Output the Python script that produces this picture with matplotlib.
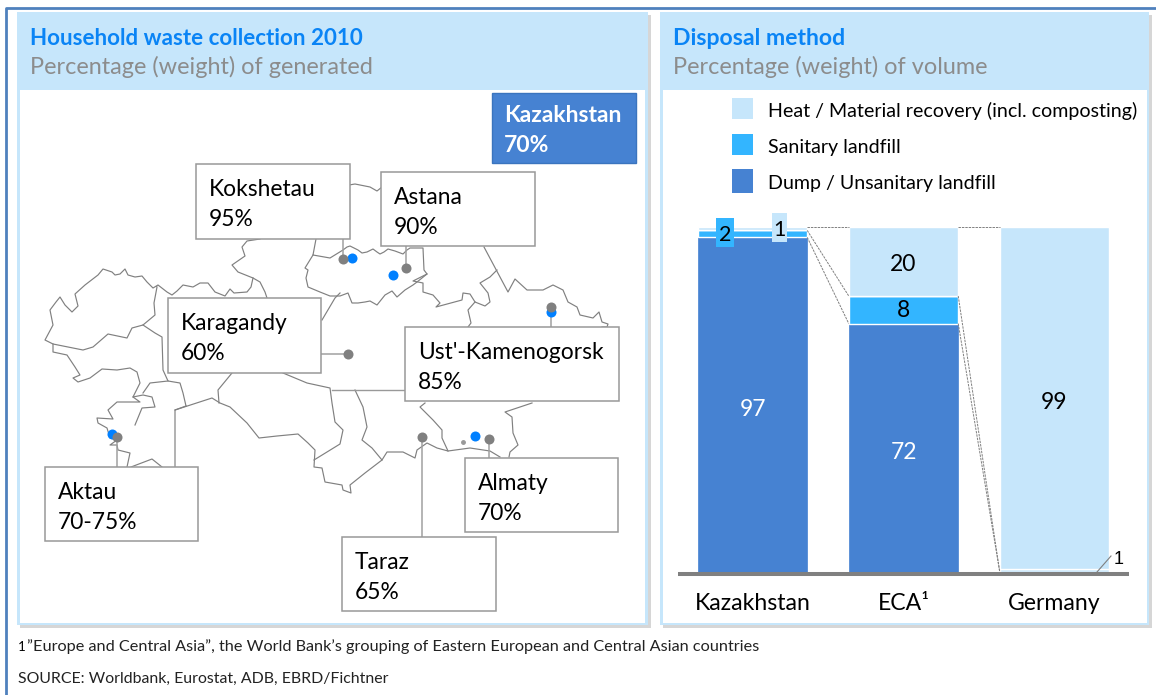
import numpy as np
import matplotlib
matplotlib.use('Agg')
import matplotlib.pyplot as plt
from matplotlib.patches import Rectangle

plt.rcParams['font.family'] = ['Lato', 'DejaVu Sans']

# bar data
categories = ['Kazakhstan', 'ECA¹', 'Germany']
dump = [97, 72, 0]
sanitary = [2, 8, 0]
heat = [1, 20, 99]
other = [0, 0, 1]
legend_labels = ['Heat / Material recovery (incl. composting)', 'Sanitary landfill', 'Dump / Unsanitary landfill']

# cities
cities = ['Kokshetau', 'Astana', 'Karagandy', "Ust'-Kamenogorsk", 'Aktau', 'Almaty', 'Taraz']
rates = ['95%', '90%', '60%', '85%', '70-75%', '70%', '65%']
country = 'Kazakhstan'
country_rate = '70%'

# map outline in pixels
map_lines = [
    [(260,239),(247,241),(242,247),(245,256),(232,265),(238,272),(253,278),(260,282),(265,292),(267,298)],
    [(253,278),(251,287),(247,292),(234,293),(230,289),(225,296),(215,292),(208,283),(200,283),(193,287),(183,285),
     (177,291),(172,295),(167,292),(158,285),(153,288),(147,282),(142,276),(135,277),(128,275),(125,269),(120,274),
     (115,275),(112,272),(103,269),(98,275),(85,285),(75,294),(78,306),(72,312),(65,305),(60,297),(56,302),(50,310),
     (53,325),(45,340),(53,344),(83,350),(93,347),(108,334),(127,338),(132,328),(143,325),(155,315),(154,303),(157,287)],
    [(143,325),(155,333),(162,337),(163,370),(168,381),(180,383),(183,393),(186,406)],
    [(53,344),(53,352),(67,355),(75,367),(80,375),(73,378),(78,382),(90,378),(102,369),(117,370),(130,368),(137,372),
     (140,383),(135,393),(133,397),(140,402),(127,402),(117,402),(108,410),(113,419),(97,418),(98,423),(107,428),
     (110,438),(117,440),(110,445),(117,445),(118,450),(130,453),(127,467)],
    [(143,393),(150,383),(168,381)],
    [(135,425),(142,408),(155,407),(152,397),(143,395),(133,397)],
    [(131,467),(152,459),(162,467)],
    [(175,467),(175,410),(212,398),(220,403),(230,407),(247,423),(259,438),(277,436),(298,434),(308,443),(315,450),
     (314,467),(322,468),(325,482),(342,485),(343,490),(351,493),(350,485),(365,473),(382,460),(387,452),(403,452),
     (415,458),(417,450),(427,443),(437,448),(448,451),(470,448),(490,451),(500,457)],
    [(175,410),(186,406)],
    [(232,373),(218,390),(219,403)],
    [(283,373),(307,383),(330,388),(332,403),(335,422),(343,430),(340,444),(314,460)],
    [(355,390),(363,407),(367,427),(362,440),(372,448),(382,460)],
    [(425,403),(420,407),(433,420),(442,430),(442,438),(448,451)],
    [(532,403),(505,412),(512,417),(513,433),(518,445),(510,452),(509,457)],
    [(349,185),(355,184),(370,187),(377,191),(382,187)],
    [(316,239),(313,255),(330,258),(343,250),(347,247),(350,246),(354,248),(358,250),(362,253),(367,252),(373,249),
     (377,252),(380,254),(384,252),(388,249),(395,251),(403,254),(407,250),(410,248),(423,248),(424,270),(427,274),
     (413,281),(423,283),(423,292),(433,295),(440,303),(436,307),(462,300),(463,293),(470,294),(475,302),(485,306),
     (490,302),(488,293),(480,283),(490,277),(497,270)],
    [(427,274),(417,282),(413,285),(405,290),(397,297),(392,291),(385,295),(377,305),(370,301),(365,302),(358,303),
     (352,303),(348,293),(340,296),(330,296),(320,292),(308,287),(306,278),(308,270),(305,268),(313,255)],
    [(340,293),(335,298),(322,320)],
    [(484,247),(508,292),(515,279),(527,290),(543,290),(553,285),(563,290),(568,302),(577,307),(580,315),(593,318),
     (599,312),(602,322),(608,324),(607,327),(602,327)],
    [(475,302),(468,310),(471,323),(468,327)],
]

# layout, pixels
boxes = [(196,164,154,75),(381,172,154,74),(168,298,153,75),(405,327,214,74),(45,467,153,74),(465,458,153,74),(342,537,154,74)]
leaders = [[(343,239),(343,259)],[(406,246),(406,268)],[(321,354),(348,354)],[(551,307),(551,327)],
           [(117,437),(117,467)],[(489,439),(489,458)],[(422,437),(422,537)]]
grey_pts = [(343,259),(406,268),(348,354),(551,307),(117,437),(489,439),(422,437)]
blue_pts = [(352,258),(393,275),(551,312),(112,434),(475,436)]
riser_line = [(332,390),(405,390)]

dark = '#4682D2'
bright = '#33B5FF'
light = '#C6E6FB'
title_blue = '#0A84F5'
grey = '#8C8C8C'

fig = plt.figure(figsize=(11.56, 6.95), dpi=100, facecolor='white')
bg = fig.add_axes([0, 0, 1, 1], zorder=0)
bg.set_xlim(0, 1156)
bg.set_ylim(695, 0)
bg.axis('off')

# outer rule
bg.plot([1156, 6, 6], [7.5, 7.5, 695], color='#4F81BD', lw=2)

# panels
for x0, x1, ix0, ix1 in [(17, 648, 20, 645), (660, 1149, 663, 1147)]:
    bg.add_patch(Rectangle((x0 + 3, 15), x1 - x0, 613, fc='#D6D6D6', ec='none'))
    bg.add_patch(Rectangle((x0, 12), x1 - x0, 613, fc=light, ec='none'))
    bg.add_patch(Rectangle((ix0, 90), ix1 - ix0, 533, fc='white', ec='none'))

bg.text(30, 38.5, 'Household waste collection 2010', color=title_blue, fontsize=16.15, fontweight='bold', va='center')
bg.text(30, 66.5, 'Percentage (weight) of generated', color=grey, fontsize=16.9, va='center')
bg.text(673, 38.5, 'Disposal method', color=title_blue, fontsize=16.6, fontweight='bold', va='center')
bg.text(673, 66.5, 'Percentage (weight) of volume', color=grey, fontsize=16.9, va='center')

# map
for line in map_lines:
    pts = np.array(line)
    bg.plot(pts[:, 0], pts[:, 1], color='#808080', lw=0.85, zorder=2)
pts = np.array(riser_line)
bg.plot(pts[:, 0], pts[:, 1], color='#999999', lw=1, zorder=2)
bg.plot([463], [442], marker='o', ms=2.5, color='#999999', zorder=2)

for line in leaders:
    pts = np.array(line)
    bg.plot(pts[:, 0], pts[:, 1], color='#A0A0A0', lw=1.1, zorder=3)
pts = np.array(blue_pts)
bg.scatter(pts[:, 0], pts[:, 1], s=52, color='#0080FF', linewidths=0, zorder=4)
pts = np.array(grey_pts)
bg.scatter(pts[:, 0], pts[:, 1], s=52, color='#808080', linewidths=0, zorder=5)

# city boxes
for (x, y, w, h), name, rate in zip(boxes, cities, rates):
    bg.add_patch(Rectangle((x, y), w, h, fc='white', ec='#999999', lw=1.1, zorder=6))
    bg.text(x + 13, y + 25.5, name, color='black', fontsize=16.4, va='center', zorder=7)
    bg.text(x + 13, y + 55.5, rate, color='black', fontsize=16.4, va='center', zorder=7)

bg.add_patch(Rectangle((492, 93), 144, 70, fc=dark, ec='#3A74BE', lw=1, zorder=6))
bg.text(504, 115, country, color='white', fontsize=16.5, fontweight='bold', va='center', zorder=7)
bg.text(504, 145, country_rate, color='white', fontsize=16.5, fontweight='bold', va='center', zorder=7)

# legend
for (y, h), col, label, ty in zip([(98, 21), (134, 21), (169, 24)], [light, bright, dark], legend_labels, [110.5, 147.5, 183.5]):
    bg.add_patch(Rectangle((732, y), 21, h, fc=col, ec='none'))
    bg.text(768, ty, label, color='black', fontsize=14.1, va='center')

# footnotes
bg.text(18, 647, '1', color='black', fontsize=9.5, va='center')
bg.text(27, 647, '”Europe and Central Asia”, the World Bank’s grouping of Eastern European and Central Asian countries',
        color='#222222', fontsize=11.7, va='center')
bg.text(18, 678.5, 'SOURCE: Worldbank, Eurostat, ADB, EBRD/Fichtner', color='#222222', fontsize=11.4, va='center')

# stacked bars
ax = fig.add_axes([678 / 1156, (695 - 572) / 695, 451 / 1156, 345 / 695], zorder=1)
ax.patch.set_alpha(0)
x = np.arange(len(categories))
width = 0.725
dump = np.array(dump)
sanitary = np.array(sanitary)
heat = np.array(heat)
other = np.array(other)
ax.bar(x, dump, width, color=dark, edgecolor=dark, lw=0.5)
ax.bar(x, sanitary, width, bottom=dump, color=bright, edgecolor='white', lw=1)
ax.bar(x, other, width, bottom=dump + sanitary, color=light, edgecolor='white', lw=1)
ax.bar(x, heat, width, bottom=dump + sanitary + other, color=light, edgecolor='white', lw=1)
ax.set_xlim(-0.4934, 2.4934)
ax.set_ylim(0, 100)

# dashed connectors between the bars
levels = [dump, dump + sanitary, dump + sanitary + other + heat]
for lev in levels:
    for i in range(len(x) - 1):
        ax.plot([x[i] + width / 2, x[i + 1] - width / 2], [lev[i], lev[i + 1]], color='#808080', lw=0.7,
                ls=(0, (2.5, 1)), clip_on=False, zorder=3)

for s in ['top', 'left', 'right']:
    ax.spines[s].set_visible(False)
ax.spines['bottom'].set_color('#808080')
ax.spines['bottom'].set_linewidth(2.9)
ax.spines['bottom'].set_capstyle('butt')
ax.spines['bottom'].set_position(('outward', 1.4))
ax.set_yticks([])
ax.set_xticks(x, categories, fontsize=16.6, color='black')
ax.tick_params(axis='x', length=0, pad=14)


def bar_label(i, bottom, value, col, dy=-5):
    ax.annotate(str(value), (x[i], bottom + value / 2), xytext=(0, dy * 0.72), textcoords='offset points',
                ha='center', va='center', fontsize=16.5, color=col, zorder=5)


bar_label(0, 0, dump[0], 'white')
bar_label(1, 0, dump[1], 'white')
bar_label(1, dump[1], sanitary[1], 'black', dy=-1)
bar_label(1, dump[1] + sanitary[1], heat[1], 'black', dy=-3)
bar_label(2, other[2], heat[2], 'black')

# small segment tags, on top of the bars
top = fig.add_axes([0, 0, 1, 1], zorder=2)
top.set_xlim(0, 1156)
top.set_ylim(695, 0)
top.axis('off')
top.add_patch(Rectangle((716, 218), 18, 29, fc=bright, ec='none'))
top.text(725, 235, str(sanitary[0]), fontsize=15.5, color='black', ha='center', va='center')
top.add_patch(Rectangle((772, 213), 15, 29, fc=light, ec='none'))
top.text(779.5, 230, str(heat[0]), fontsize=15.5, color='black', ha='center', va='center')
top.plot([1097, 1111], [572, 556], color='#808080', lw=0.8)
top.text(1119, 560, str(other[2]), fontsize=13, color='black', ha='center', va='center', family='Liberation Sans')

fig.savefig('out.png', dpi=100)
